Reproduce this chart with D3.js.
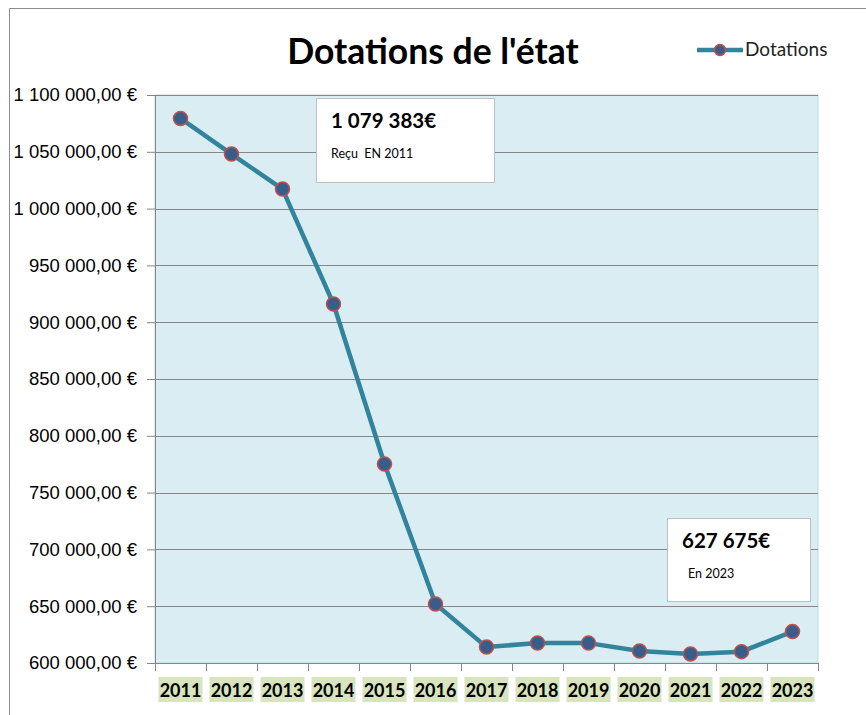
<!DOCTYPE html>
<html>
<head>
<meta charset="utf-8">
<script src="https://cdn.jsdelivr.net/npm/d3@7"></script>
<style>
  body { margin: 0; background: #fff; }
  svg { display: block; font-family: Lato, "Open Sans", sans-serif; }
</style>
</head>
<body>
<div id="chart"></div>
<script>
// values
var years = ['2011','2012','2013','2014','2015','2016','2017','2018','2019','2020','2021','2022','2023'];
var dotations = [1079383, 1048000, 1017200, 916000, 775200, 652000, 614000, 617600, 617500, 610500, 608000, 610000, 627675];
var yTicks = [600000, 650000, 700000, 750000, 800000, 850000, 900000, 950000, 1000000, 1050000, 1100000];
var notes = [
    {big: '1 079 383€', small: 'Reçu  EN 2011'},
    {big: '627 675€', small: 'En 2023'}
];

var W = 866, H = 715;
var margin = {top: 95, right: 48, bottom: 52, left: 155};

var svg = d3.select('#chart').append('svg')
    .attr('width', W)
    .attr('height', H);

// outer frame
svg.append('path')
    .attr('d', 'M9.5,' + H + 'V8.5H' + W)
    .attr('fill', 'none')
    .attr('stroke', '#8c8c8c');

var x = d3.scaleBand().domain(years).range([margin.left, W - margin.right]);
var y = d3.scaleLinear().domain([600000, 1100000]).range([H - margin.bottom, margin.top]);

// plot area
svg.append('rect')
    .attr('x', margin.left)
    .attr('y', margin.top)
    .attr('width', W - margin.right - margin.left)
    .attr('height', H - margin.bottom - margin.top)
    .attr('fill', '#daedf3')
    .attr('stroke', '#b7dde8');

var fmt = function(v){
    var s = d3.format(',.2f')(v);
    return s.replace(/,/g, ' ').replace('.', ',') + ' €';
};

// y axis + grid
var yAxis = svg.append('g')
    .attr('transform', 'translate(' + margin.left + ',0)')
    .call(d3.axisLeft(y).tickValues(yTicks).tickSize(8).tickPadding(10).tickFormat(fmt));
yAxis.select('.domain').attr('stroke', '#868686');
yAxis.selectAll('.tick line').attr('stroke', '#868686');
yAxis.selectAll('.tick text')
    .attr('fill', '#000')
    .style('font-size', '18.5px');

svg.append('g').selectAll('line')
    .data(yTicks.slice(1))
    .enter().append('line')
    .attr('x1', margin.left)
    .attr('x2', W - margin.right)
    .attr('y1', function(d){ return Math.round(y(d)) + 0.5; })
    .attr('y2', function(d){ return Math.round(y(d)) + 0.5; })
    .attr('stroke', '#868686');

// x axis: ticks between categories
var bottom = H - margin.bottom;
var bounds = years.map(function(d){ return x(d); }).concat([x.range()[1]]);
svg.append('line')
    .attr('x1', margin.left - 8).attr('x2', W - margin.right)
    .attr('y1', bottom + 0.5).attr('y2', bottom + 0.5)
    .attr('stroke', '#868686');
svg.append('g').selectAll('line')
    .data(bounds)
    .enter().append('line')
    .attr('x1', function(d){ return Math.round(d) + 0.5; })
    .attr('x2', function(d){ return Math.round(d) + 0.5; })
    .attr('y1', bottom).attr('y2', bottom + 8)
    .attr('stroke', '#868686');

var xl = svg.append('g').selectAll('g')
    .data(years)
    .enter().append('g')
    .attr('transform', function(d){ return 'translate(' + (x(d) + x.bandwidth() / 2) + ',' + (bottom + 14) + ')'; });
xl.append('rect')
    .attr('x', -22).attr('y', 0)
    .attr('width', 44).attr('height', 25)
    .attr('fill', '#d7e4bd');
xl.append('text')
    .attr('text-anchor', 'middle')
    .attr('y', 20)
    .style('font-size', '18px')
    .style('font-weight', 'bold')
    .text(function(d){ return d; });

// line + markers
var line = d3.line()
    .x(function(d, i){ return x(years[i]) + x.bandwidth() / 2; })
    .y(function(d){ return y(d); });

svg.append('path')
    .datum(dotations)
    .attr('d', line)
    .attr('fill', 'none')
    .attr('stroke', '#31849b')
    .attr('stroke-width', 4.5)
    .attr('stroke-linejoin', 'round');

svg.append('g').selectAll('circle')
    .data(dotations)
    .enter().append('circle')
    .attr('cx', function(d, i){ return x(years[i]) + x.bandwidth() / 2; })
    .attr('cy', function(d){ return y(d); })
    .attr('r', 7)
    .attr('fill', '#385d8a')
    .attr('stroke', '#c0504d')
    .attr('stroke-width', 1.5);

// annotation boxes
var boxes = [
    {x: 316, y: 98, w: 178, h: 84, tx: 15, sx: 15},
    {x: 667, y: 518, w: 143, h: 83, tx: 15, sx: 21}
];
boxes.forEach(function(b, i){
    var g = svg.append('g').attr('transform', 'translate(' + b.x + ',' + b.y + ')');
    g.append('rect')
        .attr('x', 0.5).attr('y', 0.5)
        .attr('width', b.w).attr('height', b.h)
        .attr('fill', '#fff')
        .attr('stroke', '#bfbfbf');
    g.append('text')
        .attr('x', b.tx).attr('y', 30)
        .style('font-size', '20.5px')
        .style('font-weight', 'bold')
        .text(notes[i].big);
    g.append('text')
        .attr('x', b.sx).attr('y', 60)
        .style('font-size', '12.5px')
        .style('white-space', 'pre')
        .text(notes[i].small);
});

// title
svg.append('text')
    .attr('x', 433)
    .attr('y', 64)
    .attr('text-anchor', 'middle')
    .style('font-size', '35.5px')
    .style('font-weight', 'bold')
    .text("Dotations de l'état");

// legend
var lg = svg.append('g').attr('transform', 'translate(697,50)');
lg.append('line')
    .attr('x1', 0).attr('x2', 46)
    .attr('stroke', '#31849b')
    .attr('stroke-width', 4.5);
lg.append('circle')
    .attr('cx', 23).attr('r', 5.5)
    .attr('fill', '#385d8a')
    .attr('stroke', '#c0504d')
    .attr('stroke-width', 1.5);
lg.append('text')
    .attr('x', 48).attr('y', 6)
    .style('font-size', '19px')
    .attr('fill', '#222')
    .text('Dotations');
</script>
</body>
</html>
